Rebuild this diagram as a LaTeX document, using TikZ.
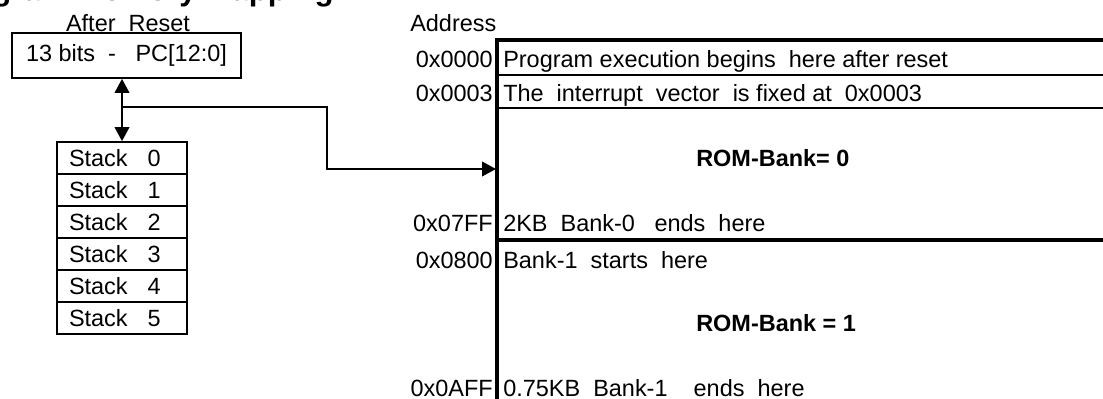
\documentclass[tikz,border=0pt]{standalone}
\usepackage{fontspec}
\setmainfont{Liberation Sans}
\usetikzlibrary{arrows.meta}

\begin{document}
\begin{tikzpicture}[
  x=0.75pt, y=-0.75pt,
  font=\fontsize{17.6pt}{20pt}\selectfont,
  regbox/.style={
    draw, line width=1.3pt, inner sep=0pt,
    minimum width=171.75pt, minimum height=33.75pt
  },
  stackbox/.style={
    draw, line width=1.3pt, minimum height=24pt,
    text width=79.5pt, inner xsep=9pt, inner ysep=0pt, align=left
  },
  addr/.style={anchor=base east, inner sep=0pt},
  entry/.style={anchor=base west, inner sep=0pt},
  bank/.style={
    anchor=base west, inner sep=0pt,
    font=\fontsize{17.6pt}{20pt}\selectfont\bfseries
  },
  memline/.style={line width=1.5pt},
  memedge/.style={line width=2.4pt, line join=miter},
  tip/.style={-{Triangle[length=10.5pt,width=11pt]}},
]
\useasboundingbox (0,0) rectangle (1103,399);

% Title, cut off at the top edge
\node[anchor=base west, inner sep=0pt,
  font=\fontsize{23.4pt}{27pt}\selectfont\bfseries] (title) at (-60,1)
  {Program Memory Mapping};

% Program counter
\node[anchor=base, inner sep=0pt] (reset) at (128,32) {After~ Reset};
\node[regbox] (pc) at (126.5,55.5) {13 bits~ -~~ PC[12:0]};

% Stack levels
\foreach \i in {0,...,5}
  \node[stackbox] (st\i) at (122,{158+32*\i}) {\makebox[59pt][l]{Stack}\i};

% PC <-> stack
\draw[line width=1.3pt, {Triangle[length=10.5pt,width=11pt]}-{Triangle[length=10.5pt,width=11pt]}]
  (st0.north) -- (st0.north |- pc.south);

% PC -> program memory
\coordinate (split) at (st0.north |- 0,107);
\coordinate (bend) at (327,169);
\coordinate (bank0in) at (496,169);
\draw[line width=1.3pt, tip] (split) -| (bend) -- (bank0in);

% Memory map outline
\draw[memedge] (1110,40) -- (497,40) -- (497,410);
\draw[memline] (497,75) -- (1110,75);
\draw[memline] (497,108) -- (1110,108);
\draw[memedge] (497,240) -- (1110,240);

% Addresses
\node[anchor=base west, inner sep=0pt] (addrhead) at (410,32) {Address};
\node[addr] (a0000) at (493,68) {0x0000};
\node[addr] (a0003) at (493,102) {0x0003};
\node[addr] (a07ff) at (493,232) {0x07FF};
\node[addr] (a0800) at (493,268) {0x0800};
\node[addr] (a0aff) at (493,396) {0x0AFF};

% Memory contents
\node[entry] (e0000) at (503,68) {Program execution begins~ here after reset};
\node[entry] (e0003) at (503,102) {The~ interrupt~ vector~ is fixed at~ 0x0003};
\node[bank] (bank0) at (696,167) {ROM-Bank= 0};
\node[entry] (e07ff) at (503,232) {2KB~ Bank-0~~ ends~ here};
\node[entry] (e0800) at (503,268) {Bank-1~ starts~ here};
\node[bank] (bank1) at (696,331) {ROM-Bank = 1};
\node[entry] (e0aff) at (503,396) {0.75KB~ Bank-1~~~ ends~ here};

\end{tikzpicture}
\end{document}
